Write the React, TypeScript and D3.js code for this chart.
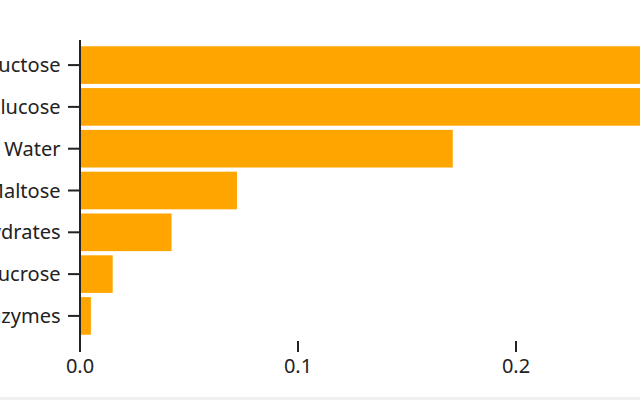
import React from "react";
import * as d3 from "d3";

const categories = ["Fructose", "Glucose", "Water", "Maltose", "Carbohydrates", "Sucrose", "Enzymes"];
const values = [0.3, 0.29, 0.171, 0.072, 0.042, 0.015, 0.005];
const xTicks = [0, 0.1, 0.2];

export default function App() {
  const W = 640, H = 400;
  const x0 = 80;
  const x = d3.scaleLinear().domain([0, 0.1]).range([x0, x0 + 218]);
  const y = d3.scaleBand<string>().domain(categories).range([40, 341]).paddingInner(0.1).paddingOuter(0.15);
  const font = "'Noto Sans', 'Open Sans', sans-serif";
  const ink = "#222";
  return (
    <svg width={W} height={H} style={{ position: "absolute", left: 0, top: 0, display: "block" }}>
      <rect x={0} y={0} width={W} height={H} fill="#fff" />
      {categories.map((c, i) => (
        <rect key={c} x={x(0)} y={y(c)!} width={x(values[i]) - x(0)} height={y.bandwidth()} fill="#FFA500" />
      ))}
      <line x1={x0} x2={x0} y1={40} y2={341} stroke={ink} strokeWidth={2} />
      {categories.map((c) => {
        const cy = y(c)! + y.bandwidth() / 2;
        return (
          <g key={c}>
            <line x1={x0 - 12} x2={x0} y1={cy} y2={cy} stroke={ink} strokeWidth={2} />
            <text x={x0 - 19.5} y={cy} dy="0.35em" textAnchor="end" fontFamily={font} fontSize={20} fill={ink}>{c}</text>
          </g>
        );
      })}
      {xTicks.map((t) => (
        <g key={t}>
          <line x1={x(t)} x2={x(t)} y1={341} y2={352} stroke={ink} strokeWidth={2} />
          <text x={x(t)} y={366} dy="0.35em" textAnchor="middle" fontFamily={font} fontSize={20} fill={ink}>{d3.format(".1f")(t)}</text>
        </g>
      ))}
      <rect x={0} y={397} width={W} height={3} fill="#f0f0f0" />
    </svg>
  );
}
